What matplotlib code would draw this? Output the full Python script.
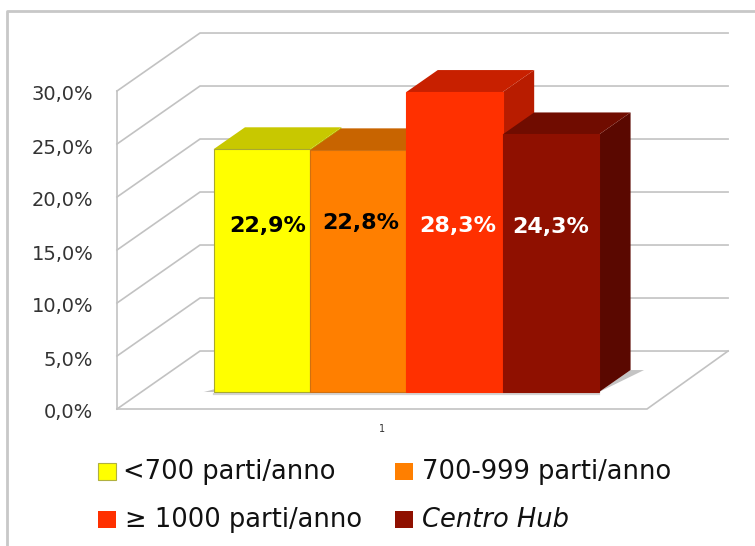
import matplotlib
matplotlib.use("Agg")
import matplotlib.pyplot as plt
from matplotlib.lines import Line2D
from matplotlib.patches import Polygon, Rectangle
from matplotlib.transforms import ScaledTranslation

# Chart content
categories = ["<700 parti/anno", "700-999 parti/anno", "\u2265 1000 parti/anno", "Centro Hub"]
values = [22.9, 22.8, 28.3, 24.3]
value_labels = ["22,9%", "22,8%", "28,3%", "24,3%"]
y_ticks = [0, 5, 10, 15, 20, 25, 30]
y_tick_labels = ["0,0%", "5,0%", "10,0%", "15,0%", "20,0%", "25,0%", "30,0%"]
x_tick_labels = ["1"]

# Face colours of each box
front_colors = ["#ffff00", "#ff7f00", "#ff3000", "#8f1000"]
top_colors = ["#c8c800", "#c86400", "#c82000", "#700c00"]
side_colors = ["#b8b800", "#b85a00", "#b81c00", "#5a0800"]
edge_colors = ["#a8a830", "#d07010", "#ff3000", "#8f1000"]
label_colors = ["black", "black", "white", "white"]

W, H = 755, 546
fig = plt.figure(figsize=(W / 100, H / 100), dpi=100, facecolor="white")
ax = fig.add_axes([117 / W, 1 - 409 / H, 530 / W, 318 / H])
XMIN, XMAX = -1.249, 4.249
ax.set_xlim(XMIN, XMAX)
ax.set_ylim(0, 30)
ax.patch.set_visible(False)

# Oblique projection: a unit of depth shifts a point by these data offsets
DX, DY = 0.861, 5.47
D0, D1 = 0.293, 0.672


def project(x, y, d):
    return (x + d * DX, y + d * DY)


GRID = "#c2c2c2"
BACK_END = XMAX + DX - 0.02
# Wall and floor grid: diagonal on the side wall, horizontal on the back wall
for v in y_ticks:
    ax.plot([XMIN, XMIN + DX, BACK_END], [v, v + DY, v + DY],
            color=GRID, lw=1.2, clip_on=False, zorder=1, solid_joinstyle="miter")
# Front and right edges of the floor
ax.plot([XMIN, XMAX, BACK_END], [0, 0, DY], color=GRID, lw=1.2, clip_on=False,
        zorder=1, solid_joinstyle="miter")

# Soft shadows on the floor
shadows = [
    [(3.5, D0), (3.5, D1), (3.64, D1)],
    [(-0.5, D0), (-0.6, D0), (-0.5, D0 + 0.07)],
]
for pts in shadows:
    ax.add_patch(Polygon([project(x, 0, d) for x, d in pts], closed=True,
                         facecolor="#c4c4c4", edgecolor="none", clip_on=False, zorder=1.5))
ax.plot([-0.5 + D0 * DX, 3.5 + D0 * DX], [D0 * DY - 0.2, D0 * DY - 0.2],
        color="#d4d4d4", lw=1.6, clip_on=False, zorder=1.5)

# Boxes, painted left to right so each covers its neighbour's side face
label_dx = [0.06, 0.03, 0.03, 0.0]
label_y = [17.3, 17.5, 17.3, 17.2]
for i, v in enumerate(values):
    z = 2 + i
    left, right = i - 0.5, i + 0.5
    ax.add_patch(Polygon([project(right, 0, D0), project(right, 0, D1),
                          project(right, v, D1), project(right, v, D0)],
                         closed=True, facecolor=side_colors[i], edgecolor="none",
                         clip_on=False, zorder=z))
    ax.add_patch(Polygon([project(left, v, D0), project(left, v, D1),
                          project(right, v, D1), project(right, v, D0)],
                         closed=True, facecolor=top_colors[i], edgecolor="none",
                         clip_on=False, zorder=z + 0.1))
    ax.bar(i + D0 * DX, v, width=1.0, bottom=D0 * DY, color=front_colors[i],
           edgecolor=edge_colors[i], linewidth=0.8, clip_on=False, zorder=z + 0.2)
    ax.text(i + D0 * DX + label_dx[i], label_y[i], value_labels[i],
            color=label_colors[i], fontsize=16, fontweight="bold",
            ha="center", va="center", zorder=10, family="DejaVu Sans")

# Axes furniture
for name in ("top", "right", "bottom"):
    ax.spines[name].set_visible(False)
ax.spines["left"].set_color(GRID)
ax.spines["left"].set_linewidth(1.2)
ax.set_yticks(y_ticks)
ax.set_yticklabels(y_tick_labels, fontsize=14, color="#333333")
ax.tick_params(axis="y", length=0, pad=17)
for lab in ax.get_yticklabels():
    lab.set_transform(lab.get_transform() + ScaledTranslation(0, -2 / 100, fig.dpi_scale_trans))
ax.set_xticks([1.5])
ax.set_xticklabels(x_tick_labels, fontsize=7, color="#333333")
ax.tick_params(axis="x", length=0, pad=11)

# Legend, two rows of two entries
swatch_cells = [(98, 463), (395, 463), (98, 511), (395, 511)]
text_starts = [123, 422, 125, 422]
for i, name in enumerate(categories):
    sx, sy = swatch_cells[i]
    fig.add_artist(Rectangle((sx / W, 1 - (sy + 17) / H), 18 / W, 17 / H,
                             transform=fig.transFigure, facecolor=front_colors[i],
                             edgecolor="#b0b040" if i == 0 else "none", linewidth=0.8))
    fig.text(text_starts[i] / W, 1 - (sy + 9) / H, name, fontsize=18.5, color="#111111",
             ha="left", va="center", style="italic" if i == 3 else "normal")

# Outer frame: top and left edges only
fig.add_artist(Line2D([7 / W, 7 / W, 1], [0, 1 - 11 / H, 1 - 11 / H],
                      transform=fig.transFigure, color="#c8c8c8", lw=2))

fig.savefig("out.png", dpi=100, facecolor="white")
